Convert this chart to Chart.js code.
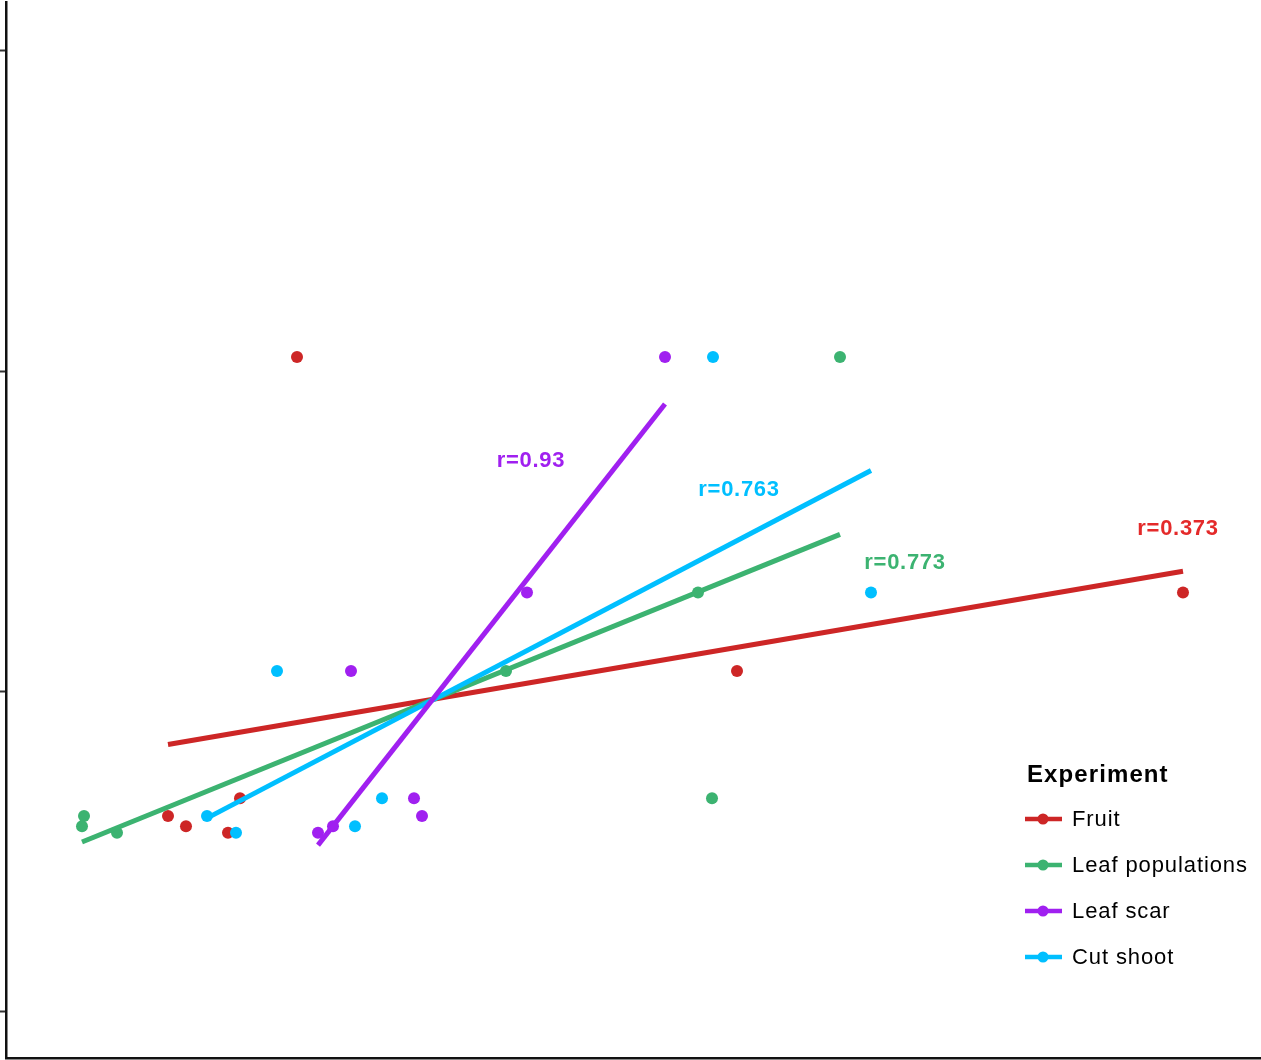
<!DOCTYPE html>
<html>
<head>
<meta charset="utf-8">
<script src="https://cdn.jsdelivr.net/npm/chart.js@4.4.0/dist/chart.umd.min.js"></script>
<style>
  html, body { margin: 0; padding: 0; background: #fff; overflow: hidden; }
  canvas { display: block; }
</style>
</head>
<body>
<canvas id="grafico" width="1261" height="1060"></canvas>
<script>
// datos
const experimentos = ["Fruit", "Leaf populations", "Leaf scar", "Cut shoot"];
const respuesta = [2.044, 1.308, 1.063, 0.665, 0.610, 0.578, 0.557];
const xFruit = [-1.37, 7.49, 3.03, -1.94, -2.66, -2.48, -2.06];
const xLeafPop = [4.06, 2.64, 0.72, 2.78, -3.50, -3.52, -3.17];
const xLeafScar = [2.31, 0.93, -0.83, -0.20, -0.12, -1.01, -1.16];
const xCutShoot = [2.79, 4.37, -1.57, -0.52, -2.27, -0.79, -1.98];
const etiquetasR = ["r=0.373", "r=0.773", "r=0.93", "r=0.763"];
const yTicks = [0, 1, 2, 3];

const seriesX = [xFruit, xLeafPop, xLeafScar, xCutShoot];
const colores = ["#CD2626", "#3CB371", "#A020F0", "#00BFFF"];
const coloresR = ["#E42A2A", "#3CB371", "#A020F0", "#00BFFF"];
// donde va cada etiqueta r (unidades de datos)
const posR = [[7.44, 1.506], [4.71, 1.40], [0.97, 1.719], [3.05, 1.628]];
const FUENTE = "'Liberation Sans', Arial, Helvetica, sans-serif";

// recta de mínimos cuadrados entre el x mínimo y el máximo
function ajuste(xs, ys) {
  const n = xs.length;
  const mx = xs.reduce((a, b) => a + b, 0) / n;
  const my = ys.reduce((a, b) => a + b, 0) / n;
  let sxy = 0, sxx = 0;
  for (let i = 0; i < n; i++) {
    sxy += (xs[i] - mx) * (ys[i] - my);
    sxx += (xs[i] - mx) ** 2;
  }
  const b = sxy / sxx;
  const a = my - b * mx;
  const x0 = Math.min(...xs), x1 = Math.max(...xs);
  return [{ x: x0, y: a + b * x0 }, { x: x1, y: a + b * x1 }];
}

const ordenLinea = [3, 2, 0, 1];
const datasets = [];
seriesX.forEach((xs, k) => {
  datasets.push({
    type: "line",
    label: experimentos[k] + " fit",
    data: ajuste(xs, respuesta),
    borderColor: colores[k],
    borderWidth: 5,
    pointRadius: 0,
    fill: false,
    order: ordenLinea[k]
  });
  datasets.push({
    type: "scatter",
    label: experimentos[k],
    data: xs.map((x, i) => ({ x: x, y: respuesta[i] })),
    backgroundColor: colores[k],
    borderWidth: 0,
    pointRadius: 6,
    order: 13 - k
  });
});

const extras = {
  id: "extras",
  afterDraw(chart) {
    const ctx = chart.ctx;
    const sx = chart.scales.x, sy = chart.scales.y;
    ctx.save();
    // etiquetas r
    ctx.font = "bold 22px " + FUENTE;
    ctx.letterSpacing = "0.7px";
    ctx.textAlign = "center";
    ctx.textBaseline = "middle";
    etiquetasR.forEach((t, k) => {
      ctx.fillStyle = coloresR[k];
      ctx.fillText(t, sx.getPixelForValue(posR[k][0]), sy.getPixelForValue(posR[k][1]));
    });
    // leyenda
    ctx.textAlign = "left";
    ctx.textBaseline = "alphabetic";
    ctx.fillStyle = "#000";
    ctx.font = "bold 24px " + FUENTE;
    ctx.letterSpacing = "1.1px";
    ctx.fillText("Experiment", 1027, 782);
    ctx.font = "22px " + FUENTE;
    ctx.letterSpacing = "0.9px";
    ctx.textBaseline = "middle";
    experimentos.forEach((nombre, k) => {
      const y = 819 + k * 46;
      ctx.strokeStyle = colores[k];
      ctx.lineWidth = 4.5;
      ctx.beginPath();
      ctx.moveTo(1025, y);
      ctx.lineTo(1062, y);
      ctx.stroke();
      ctx.fillStyle = colores[k];
      ctx.beginPath();
      ctx.arc(1043, y, 5.5, 0, Math.PI * 2);
      ctx.fill();
      ctx.fillStyle = "#000";
      ctx.fillText(nombre, 1072, y + 1);
    });
    ctx.restore();
  }
};

new Chart(document.getElementById("grafico"), {
  type: "scatter",
  data: { datasets: datasets },
  options: {
    responsive: false,
    maintainAspectRatio: false,
    devicePixelRatio: 1,
    animation: false,
    layout: { autoPadding: false, padding: { top: 2, left: 0, right: 0, bottom: 1.5 } },
    plugins: { legend: { display: false }, tooltip: { enabled: false } },
    scales: {
      x: {
        type: "linear",
        position: "bottom",
        min: -4.28,
        max: 8.27,
        grid: { display: false, drawTicks: false },
        ticks: { display: false },
        border: { display: true, color: "#111", width: 2.5 }
      },
      y: {
        type: "linear",
        min: -0.148,
        max: 3.153,
        afterBuildTicks: (eje) => { eje.ticks = yTicks.map(v => ({ value: v })); },
        grid: { drawOnChartArea: false, drawTicks: true, tickLength: 6, tickColor: "#333", tickWidth: 2 },
        ticks: { display: false },
        border: { display: true, color: "#111", width: 2.5 }
      }
    }
  },
  plugins: [extras]
});
</script>
</body>
</html>
